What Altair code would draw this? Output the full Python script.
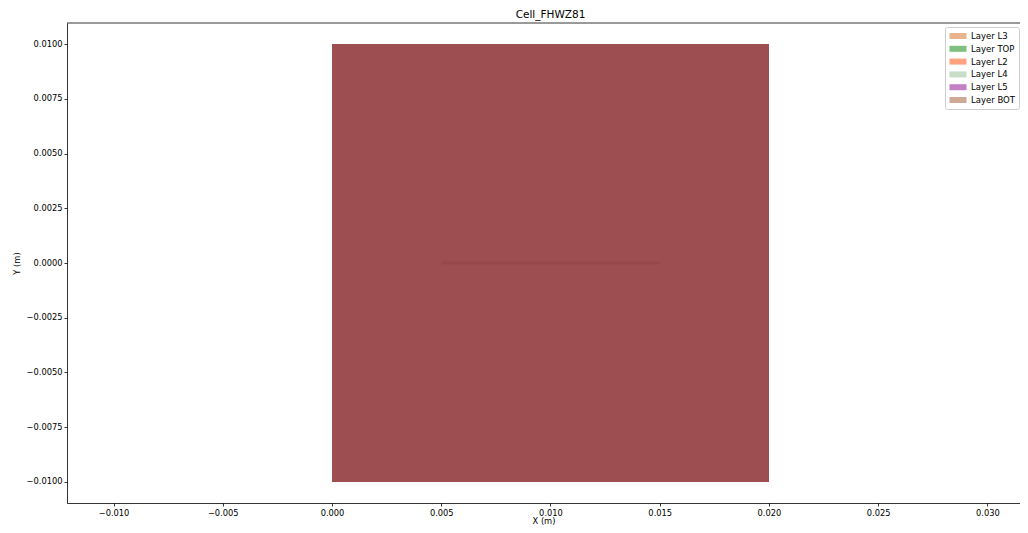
import altair as alt
import pandas as pd

# ---- data ----
layers = ["Layer L3", "Layer TOP", "Layer L2", "Layer L4", "Layer L5", "Layer BOT"]
layer_colors = ["chocolate", "green", "orangered", "darkseagreen", "darkmagenta", "sienna"]
x_min = [0.0, 0.0, 0.0, 0.0, 0.0, 0.0]
x_max = [0.02, 0.02, 0.02, 0.02, 0.02, 0.02]
y_min = [-0.01, -0.01, -0.01, -0.01, -0.01, -0.01]
y_max = [0.01, 0.01, 0.01, 0.01, 0.01, 0.01]

trace_x0 = [0.005]
trace_x1 = [0.015]
trace_y = [0.0]

x_ticks = [-0.010, -0.005, 0.000, 0.005, 0.010, 0.015, 0.020, 0.025, 0.030]
y_ticks = [-0.0100, -0.0075, -0.0050, -0.0025, 0.0000, 0.0025, 0.0050, 0.0075, 0.0100]
x_domain = [-0.01213, 0.03149]
y_domain = [-0.01096, 0.01096]

W, H = 953, 480
FONT = "DejaVu Sans"

rect_df = pd.DataFrame({"layer": layers, "x0": x_min, "x1": x_max, "y0": y_min, "y1": y_max})
trace_df = pd.DataFrame({"x0": trace_x0, "x1": trace_x1, "y": trace_y})

xscale = alt.Scale(domain=x_domain, nice=False, zero=False)
yscale = alt.Scale(domain=y_domain, nice=False, zero=False)

rects = alt.Chart(rect_df).mark_rect(opacity=0.5).encode(
    x=alt.X("x0:Q", scale=xscale,
            axis=alt.Axis(values=x_ticks, format=".3f", title="X (m)", grid=False,
                          labelPadding=2, titlePadding=0)),
    x2="x1:Q",
    y=alt.Y("y0:Q", scale=yscale,
            axis=alt.Axis(values=y_ticks, format=".4f", title="Y (m)", grid=False,
                          labelPadding=2, titlePadding=5)),
    y2="y1:Q",
    color=alt.Color(
        "layer:N",
        scale=alt.Scale(domain=layers, range=layer_colors),
        sort=layers,
        legend=alt.Legend(
            orient="none", legendX=878, legendY=4, title=None,
            symbolType="M-1.7,-0.6H1.7V0.6H-1.7Z", symbolSize=100,
            symbolOpacity=0.5, symbolStrokeWidth=0,
            labelFontSize=8.5, labelFont=FONT, labelColor="black",
            padding=4, rowPadding=2.8, symbolOffset=4, labelOffset=8,
            strokeColor="#cccccc", fillColor="rgba(255,255,255,0.8)", cornerRadius=2,
        ),
    ),
)

trace = alt.Chart(trace_df).mark_rule(color="#5a1a10", opacity=0.08, strokeWidth=2.5).encode(
    x=alt.X("x0:Q", scale=xscale),
    x2="x1:Q",
    y=alt.Y("y:Q", scale=yscale),
)

top_spine = alt.Chart(trace_df).mark_rule(color="black", strokeWidth=0.8).encode(
    x=alt.value(0), x2=alt.value(W), y=alt.value(0)
)

chart = alt.layer(rects, trace, top_spine).properties(
    width=W, height=H,
    autosize="none",
    padding={"left": 59, "top": 15, "right": 0, "bottom": 22},
    title=alt.Title("Cell_FHWZ81", fontSize=10.5, font=FONT, fontWeight="normal",
                    color="black", offset=5, anchor="middle", dx=7, dy=3),
).configure_view(stroke=None).configure_axis(
    domainColor="black", domainWidth=0.8,
    tickColor="black", tickWidth=0.8, tickSize=3,
    labelFont=FONT, labelFontSize=8.3, labelColor="black",
    titleFont=FONT, titleFontSize=8.3, titleColor="black", titleFontWeight="normal",
)

chart.save("out.html", embed_options={"renderer": "svg", "actions": False})
